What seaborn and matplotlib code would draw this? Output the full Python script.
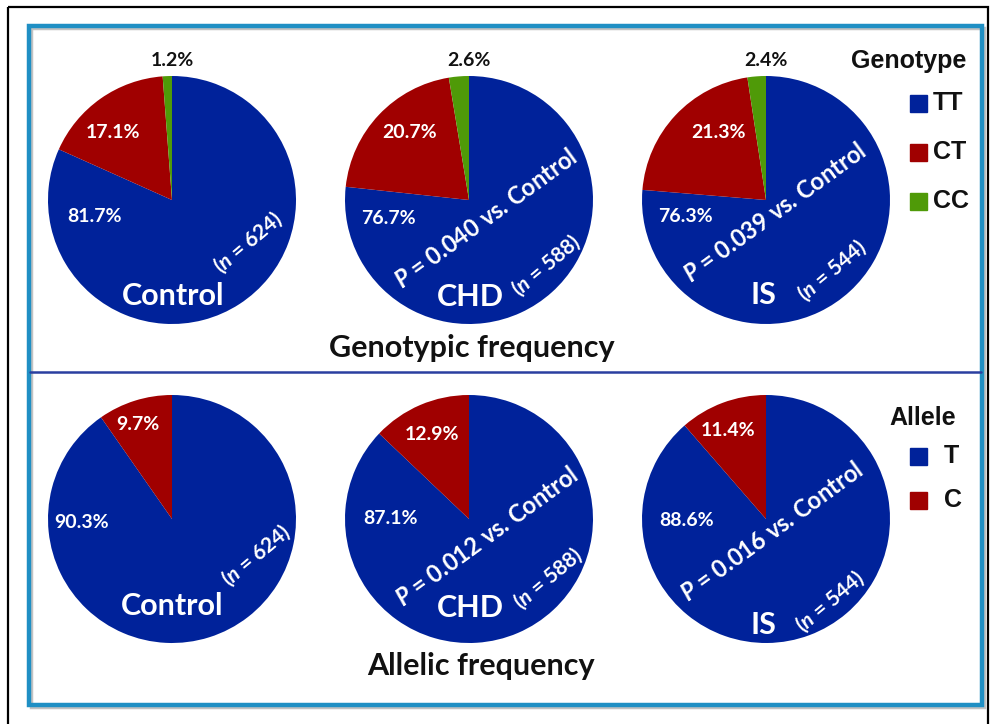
import seaborn as sns
from matplotlib import pyplot as plt
from matplotlib.patches import Rectangle

# data
groups = ['Control', 'CHD', 'IS']
n_sizes = [624, 588, 544]
geno_labels = ['TT', 'CT', 'CC']
geno_tt = [81.7, 76.7, 76.3]
geno_ct = [17.1, 20.7, 21.3]
geno_cc = [1.2, 2.6, 2.4]
geno_p = [None, '0.040', '0.039']
allele_labels = ['T', 'C']
allele_t = [90.3, 87.1, 88.6]
allele_c = [9.7, 12.9, 11.4]
allele_p = [None, '0.012', '0.016']

sns.set_theme(style='white')
plt.rcParams['font.family'] = ['Lato', 'DejaVu Sans']
plt.rcParams['mathtext.fontset'] = 'custom'
plt.rcParams['mathtext.it'] = 'Lato:bold:italic'
plt.rcParams['mathtext.rm'] = 'Lato:bold'

W, H = 992, 724
colors = ['#00229a', '#a00000', '#4f9a08']

fig = plt.figure(figsize=(W / 100, H / 100), dpi=100)
fig.patch.set_facecolor('white')

R = 124
cxs = [172, 469, 766]
cys = [200, 519]


def pie_ax(cx, cy):
    ax = fig.add_axes([(cx - R) / W, 1 - (cy + R) / H, 2 * R / W, 2 * R / H])
    return ax


for i in range(3):
    ax = pie_ax(cxs[i], cys[0])
    ax.pie([geno_tt[i], geno_ct[i], geno_cc[i]], colors=colors,
           startangle=90, counterclock=False,
           wedgeprops=dict(linewidth=0))
    ax.set_xlim(-1, 1)
    ax.set_ylim(-1, 1)

    ax = pie_ax(cxs[i], cys[1])
    ax.pie([allele_t[i], allele_c[i]], colors=colors[:2],
           startangle=90, counterclock=False,
           wedgeprops=dict(linewidth=0))
    ax.set_xlim(-1, 1)
    ax.set_ylim(-1, 1)

# overlay in pixel coords
ov = fig.add_axes([0, 0, 1, 1])
ov.set_xlim(0, W)
ov.set_ylim(H, 0)
ov.axis('off')
ov.patch.set_alpha(0)

# frames
ov.add_patch(Rectangle((8, 7), 980, 730, fill=False, ec='black', lw=1.6))
ov.add_patch(Rectangle((31, 28), 953, 679, fill=False, ec='#9a9a9a', lw=2.5, alpha=0.6))
ov.add_patch(Rectangle((29, 26), 953, 679, fill=False, ec='#1f8fc4', lw=3.2))
ov.plot([30, 981], [372, 372], color='#2a3fa0', lw=1.8)

white = dict(color='white', ha='center', va='center')

# percentage labels, offsets from pie centres
geno_red_off = [(-59, -67), (-59, -67), (-48, -67)]
geno_blue_off = [(-77, 17), (-81, 18), (-81, 17)]
allele_red_off = [(-34, -94), (-37, -84), (-38, -89)]
allele_blue_off = [(-90, 3), (-79, -1), (-79, 1)]
name_off_top = [(1, 96), (1, 97), (-3, 95)]
name_off_bot = [(0, 87), (1, 89), (-3, 106)]
n_pos_top = [(248, 242), (546, 265), (832, 270)]
n_pos_bot = [(256, 555), (548, 578), (830, 601)]
p_pos_top = [None, (486, 219), (775, 213)]
p_pos_bot = [None, (487, 537), (772, 532)]

pct = dict(fontsize=14, fontweight='bold')
for i in range(3):
    cx, cy = cxs[i], cys[0]
    ov.text(cx + geno_red_off[i][0], cy + geno_red_off[i][1], f'{geno_ct[i]}%', **pct, **white)
    ov.text(cx + geno_blue_off[i][0], cy + geno_blue_off[i][1], f'{geno_tt[i]}%', **pct, **white)
    ov.text(cx, cy - 140, f'{geno_cc[i]}%', fontsize=14, fontweight='bold',
            color='#111111', ha='center', va='center')
    ov.text(cx + name_off_top[i][0], cy + name_off_top[i][1], groups[i],
            fontsize=22, fontweight='bold', **white)
    ov.text(*n_pos_top[i], f'($n$ = {n_sizes[i]})', fontsize=15,
            fontweight='bold', rotation=40, rotation_mode='anchor', **white)
    if geno_p[i]:
        ov.text(*p_pos_top[i], f'$P$ = {geno_p[i]} vs. Control', fontsize=17,
                fontweight='bold', rotation=36, rotation_mode='anchor', **white)

    cy = cys[1]
    ov.text(cx + allele_red_off[i][0], cy + allele_red_off[i][1], f'{allele_c[i]}%', **pct, **white)
    ov.text(cx + allele_blue_off[i][0], cy + allele_blue_off[i][1], f'{allele_t[i]}%', **pct, **white)
    ov.text(cx + name_off_bot[i][0], cy + name_off_bot[i][1], groups[i],
            fontsize=22, fontweight='bold', **white)
    ov.text(*n_pos_bot[i], f'($n$ = {n_sizes[i]})', fontsize=15,
            fontweight='bold', rotation=40, rotation_mode='anchor', **white)
    if allele_p[i]:
        ov.text(*p_pos_bot[i], f'$P$ = {allele_p[i]} vs. Control', fontsize=17,
                fontweight='bold', rotation=36, rotation_mode='anchor', **white)

ov.text(472, 348, 'Genotypic frequency', fontsize=22, fontweight='bold',
        color='#111111', ha='center', va='center')
ov.text(481, 666, 'Allelic frequency', fontsize=22, fontweight='bold',
        color='#111111', ha='center', va='center')

# legends
leg_font = ['Liberation Sans', 'DejaVu Sans']
ov.text(909, 61, 'Genotype', fontsize=18, fontweight='bold', ha='center',
        va='center', family=leg_font, color='#111111')
for k, lab in enumerate(geno_labels):
    y = 103 + k * 49
    ov.add_patch(Rectangle((910, y - 8), 17, 17, color=colors[k]))
    ov.text(933, y, lab, fontsize=18, fontweight='bold', ha='left', va='center',
            family=leg_font, color='#111111')

ov.text(923, 418, 'Allele', fontsize=18, fontweight='bold', ha='center',
        va='center', family=leg_font, color='#111111')
for k, lab in enumerate(allele_labels):
    y = 456 + k * 44
    ov.add_patch(Rectangle((910, y - 8), 17, 17, color=colors[k]))
    ov.text(944, y, lab, fontsize=18, fontweight='bold', ha='left', va='center',
            family=leg_font, color='#111111')

fig.savefig('out.png', dpi=100)
